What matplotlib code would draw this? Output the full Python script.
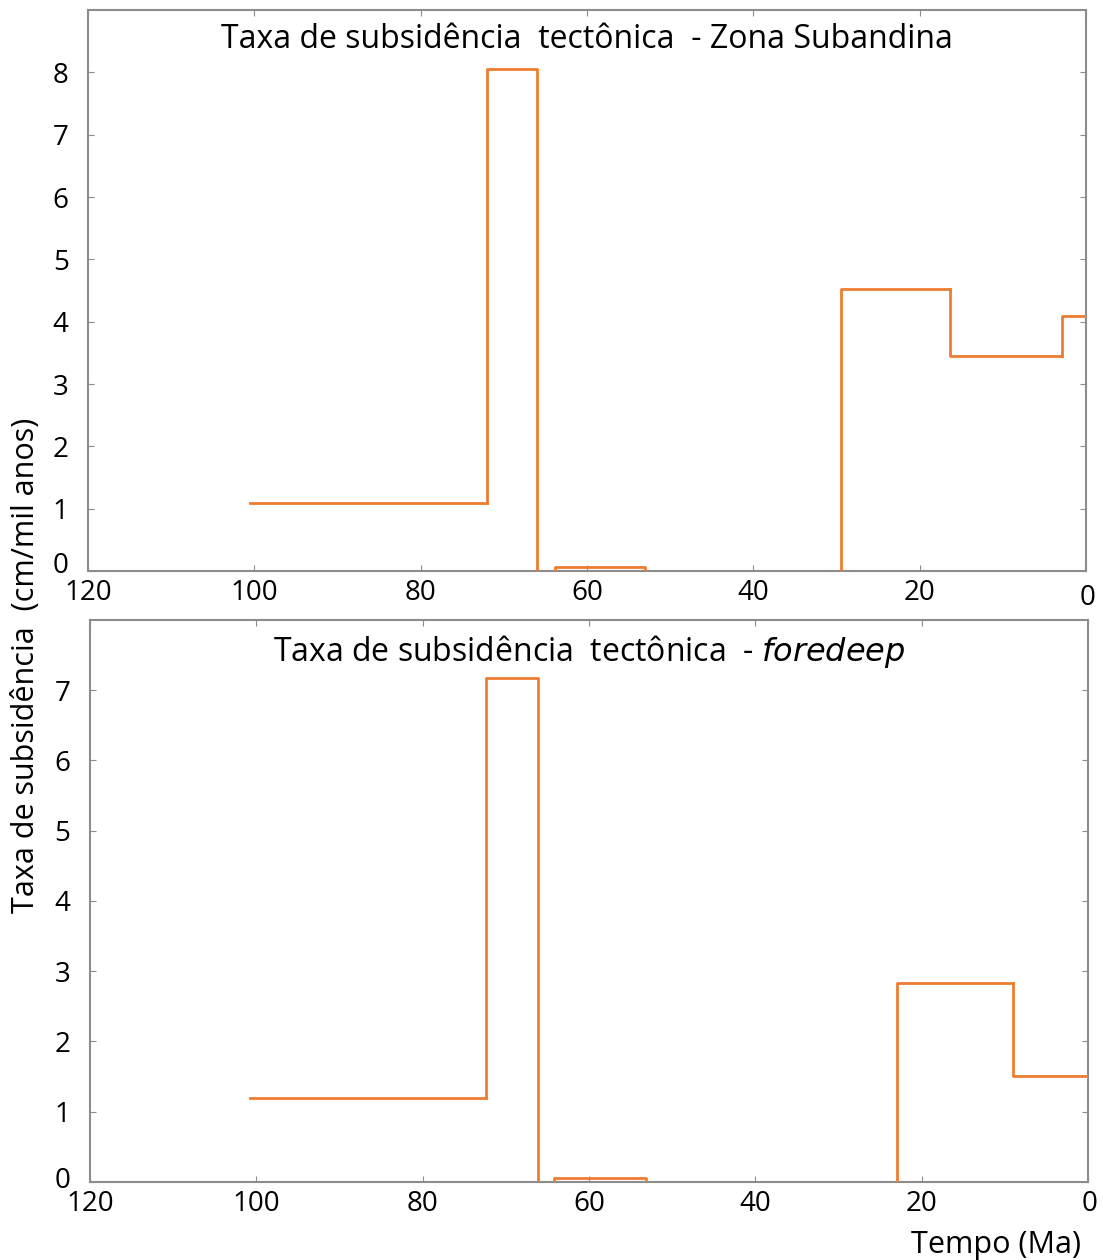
import numpy as np
import matplotlib.pyplot as plt
from matplotlib.transforms import ScaledTranslation

plt.rcParams['font.family'] = ['Open Sans', 'DejaVu Sans']

# Zona Subandina: step edges (Ma) and rates (cm/mil anos)
sub_edges = [100.5, 72.0, 66.0, 63.9, 53.0, 29.5, 16.4, 2.9, 0.0]
sub_rates = [1.09, 8.05, 0.0, 0.06, 0.0, 4.53, 3.45, 4.09]

# foredeep
fd_edges = [100.8, 72.4, 66.1, 64.2, 53.1, 23.0, 9.0, 0.0]
fd_rates = [1.19, 7.17, 0.0, 0.06, 0.0, 2.83, 1.51]

orange = '#ED7D31'
gray = '#8c8c8c'

fig = plt.figure(figsize=(11.03, 12.6), dpi=100)
ax1 = fig.add_axes([0.0798, 0.5468, 0.9048, 0.4452])
ax2 = fig.add_axes([0.0816, 0.0619, 0.9048, 0.4461])

def draw(ax, edges, rates, ymax, title, ty, y0_up, x0_down):
    # faint blue baseline under the zero segments
    ax.plot([edges[2], 0], [0, 0], color='#8080e0', lw=1.2, zorder=2)
    for i in range(len(rates)):
        if rates[i] == 0:
            continue
        xs = [edges[i], edges[i], edges[i + 1], edges[i + 1]]
        ys = [rates[i - 1] if i > 0 else rates[i], rates[i], rates[i],
              0 if i + 1 < len(rates) and rates[i + 1] == 0 else rates[i]]
        if i == 0:
            xs, ys = xs[1:], ys[1:]
        ax.plot(xs, ys, color=orange, lw=2, zorder=3)
    ax.set_xlim(120, 0)
    ax.set_ylim(0, ymax)
    ax.set_xticks([120, 100, 80, 60, 40, 20, 0])
    ax.set_yticks(range(0, int(ymax)))
    ax.tick_params(direction='in', length=4, color=gray, labelsize=20,
                   top=True, right=True)
    ax.tick_params(axis='y', pad=14)
    ax.tick_params(axis='x', pad=6)
    for s in ax.spines.values():
        s.set_color(gray)
        s.set_linewidth(1.5)
    ax.text(0.5, ty, title, transform=ax.transAxes, fontsize=23,
            ha='center', va='center')
    # nudge corner labels apart like in the original
    fig.canvas.draw()
    y0 = ax.get_yticklabels()[0]
    y0.set_transform(y0.get_transform() + ScaledTranslation(0, y0_up, fig.dpi_scale_trans))
    x0 = ax.get_xticklabels()[-1]
    x0.set_transform(x0.get_transform() + ScaledTranslation(0.02, -x0_down, fig.dpi_scale_trans))

draw(ax1, sub_edges, sub_rates, 9, 'Taxa de subsidência  tectônica  - Zona Subandina', 0.947, 0.09, 0.05)
draw(ax2, fd_edges, fd_rates, 8, 'Taxa de subsidência  tectônica  - $\\it{foredeep}$', 0.943, 0.05, 0.0)

fig.text(0.024, 0.472, 'Taxa de subsidência  (cm/mil anos)', rotation=90,
         fontsize=22, ha='center', va='center')
fig.text(0.98, 0.0, 'Tempo (Ma)', fontsize=22, ha='right', va='bottom')

fig.savefig('out.png', dpi=100)
